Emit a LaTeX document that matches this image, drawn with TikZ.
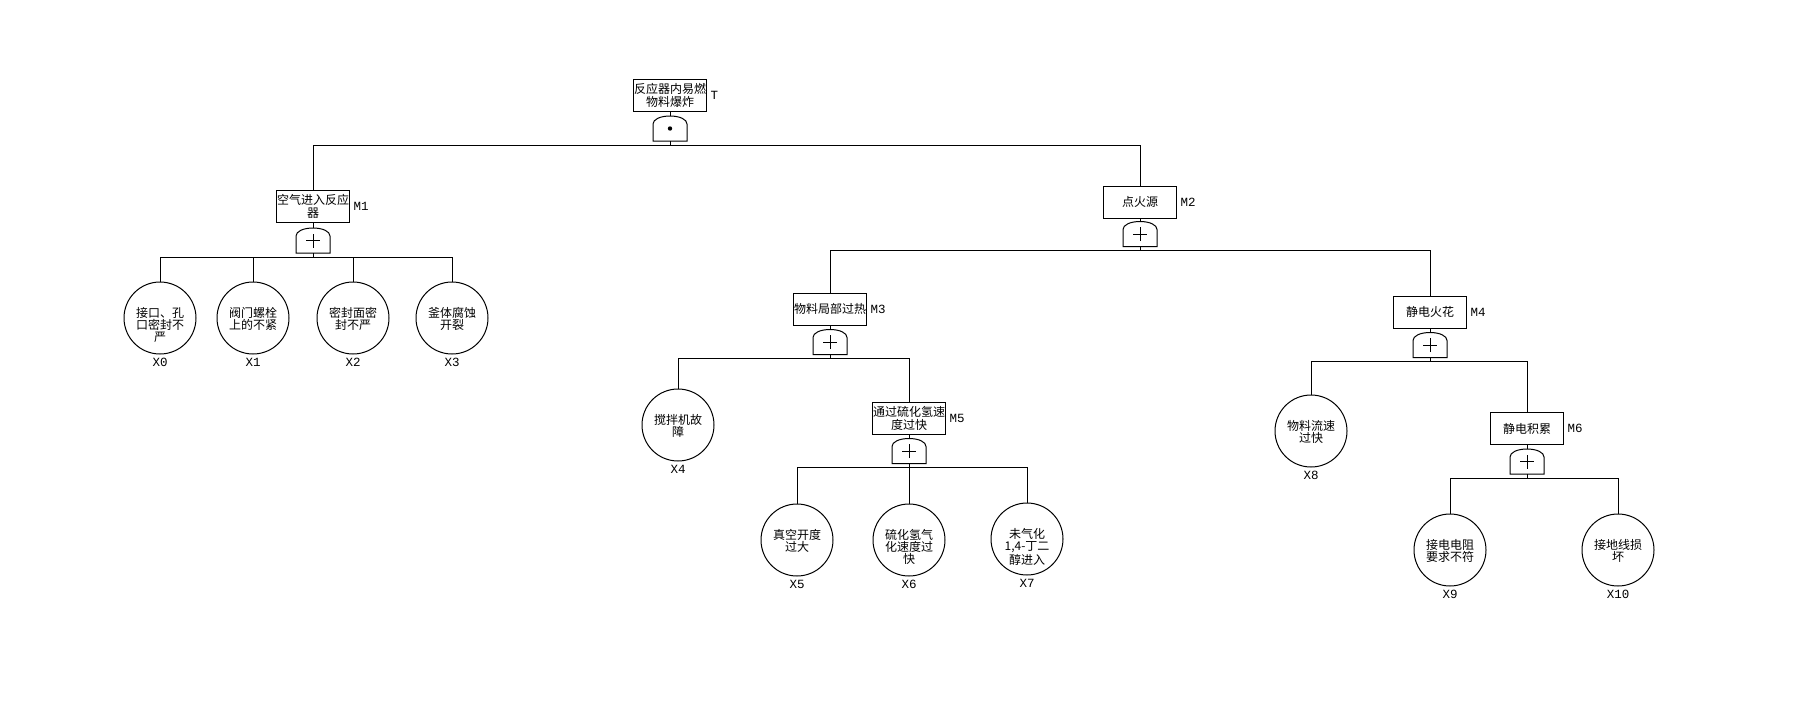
\documentclass[tikz,border=0pt]{standalone}
\usepackage{fontspec}
\newfontfamily\cjk{Noto Sans CJK SC}
\newfontfamily\tagfont{Liberation Mono}
\usetikzlibrary{positioning}

% dome shaped gate drawn round a blank node
\newcommand\gatebody[1]{%
  \draw (#1.south west) -- ([yshift=-8pt]#1.north west)
    .. controls ([yshift=-3.5pt]#1.north west) and ([xshift=7pt]#1.north west) .. (#1.north)
    .. controls ([xshift=-7pt]#1.north east) and ([yshift=-3.5pt]#1.north east) .. ([yshift=-8pt]#1.north east)
    -- (#1.south east) -- cycle;}
\newcommand\orgate[1]{\gatebody{#1}
  \draw ([xshift=-7pt]#1.center) -- ([xshift=7pt]#1.center)
        ([yshift=-7pt]#1.center) -- ([yshift=7pt]#1.center);}
\newcommand\andgate[1]{\gatebody{#1}
  \fill (#1.center) circle (2.2pt);}

\begin{document}
\begin{tikzpicture}[x=1pt, y=-1pt, line width=1pt,
    every node/.style = {inner sep=0pt},
    event/.style = {shape=rectangle, draw, align=center,
      minimum width=73pt, minimum height=32pt,
      font=\cjk\fontsize{12}{13}\selectfont},
    basic/.style = {shape=circle, draw, minimum size=72pt},
    desc/.style = {anchor=north, align=center,
      font=\cjk\fontsize{12}{12}\selectfont},
    gate/.style = {minimum width=33pt, minimum height=24pt},
    tag/.style = {font=\tagfont\fontsize{12.5}{12.5}\selectfont, inner sep=1pt},
    tagged/.style = {label={[tag, label distance=2pt]right:#1}}]

  \useasboundingbox (0,0) rectangle (1818,710);

  % top event
  \node[event, tagged=T] (top) at (670,95.5) {反应器内易燃\\物料爆炸};
  \node[gate, below=4pt of top] (gtop) {};
  \andgate{gtop}

  % intermediate events
  \node[event, tagged=M1] (m1) at (313,206.5) {空气进入反应\\器};
  \node[gate, below=5pt of m1] (g1) {};
  \orgate{g1}
  \node[event, tagged=M2] (m2) at (1140,202) {点火源};
  \node[gate, below=3pt of m2] (g2) {};
  \orgate{g2}
  \node[event, tagged=M3] (m3) at (830,309) {物料局部过热};
  \node[gate, below=4pt of m3] (g3) {};
  \orgate{g3}
  \node[event, tagged=M4] (m4) at (1430,312) {静电火花};
  \node[gate, below=4pt of m4] (g4) {};
  \orgate{g4}
  \node[event, tagged=M5] (m5) at (909,418) {通过硫化氢速\\度过快};
  \node[gate, below=4pt of m5] (g5) {};
  \orgate{g5}
  \node[event, tagged=M6] (m6) at (1527,428.5) {静电积累};
  \node[gate, below=4pt of m6] (g6) {};
  \orgate{g6}

  % basic events
  \node[basic] (x0) at (160,318) {};
  \node[basic] (x1) at (253,318) {};
  \node[basic] (x2) at (353,318) {};
  \node[basic] (x3) at (452,318) {};
  \node[basic] (x4) at (678,425) {};
  \node[basic] (x5) at (797,540) {};
  \node[basic] (x6) at (909,540) {};
  \node[basic] (x7) at (1027,539) {};
  \node[basic] (x8) at (1311,431) {};
  \node[basic] (x9) at (1450,550) {};
  \node[basic] (x10) at (1618,550) {};

  \node[desc] (x0t) at ([yshift=11pt]x0.center) {接口、孔\\口密封不\\严};
  \node[desc] (x1t) at ([yshift=11pt]x1.center) {阀门螺栓\\上的不紧};
  \node[desc] (x2t) at ([yshift=11pt]x2.center) {密封面密\\封不严};
  \node[desc] (x3t) at ([yshift=11pt]x3.center) {釜体腐蚀\\开裂};
  \node[desc] (x4t) at ([yshift=11pt]x4.center) {搅拌机故\\障};
  \node[desc] (x5t) at ([yshift=11pt]x5.center) {真空开度\\过大};
  \node[desc] (x6t) at ([yshift=11pt]x6.center) {硫化氢气\\化速度过\\快};
  \node[desc] (x7t) at ([yshift=11pt]x7.center) {未气化\\1,4-丁二\\醇进入};
  \node[desc] (x8t) at ([yshift=11pt]x8.center) {物料流速\\过快};
  \node[desc] (x9t) at ([yshift=11pt]x9.center) {接电电阻\\要求不符};
  \node[desc] (x10t) at ([yshift=11pt]x10.center) {接地线损\\坏};

  \node[tag, below=2.5pt of x0] (x0l) {X0};
  \node[tag, below=2.5pt of x1] (x1l) {X1};
  \node[tag, below=2.5pt of x2] (x2l) {X2};
  \node[tag, below=2.5pt of x3] (x3l) {X3};
  \node[tag, below=2.5pt of x4] (x4l) {X4};
  \node[tag, below=2.5pt of x5] (x5l) {X5};
  \node[tag, below=2.5pt of x6] (x6l) {X6};
  \node[tag, below=2.5pt of x7] (x7l) {X7};
  \node[tag, below=2.5pt of x8] (x8l) {X8};
  \node[tag, below=2.5pt of x9] (x9l) {X9};
  \node[tag, below=2.5pt of x10] (x10l) {X10};

  % connections
  \draw (top) -- (gtop);
  \draw (m1) -- (g1);
  \draw (m2) -- (g2);
  \draw (m3) -- (g3);
  \draw (m4) -- (g4);
  \draw (m5) -- (g5);
  \draw (m6) -- (g6);

  \draw (gtop.south) -- ++(0,4) -| (m1.north);
  \draw (gtop.south) -- ++(0,4) -| (m2.north);
  \foreach \c in {x0,x1,x2,x3}
    \draw (g1.south) -- ++(0,4) -| (\c.north);
  \draw (g2.south) -- ++(0,4) -| (m3.north);
  \draw (g2.south) -- ++(0,4) -| (m4.north);
  \draw (g3.south) -- ++(0,4) -| (x4.north);
  \draw (g3.south) -- ++(0,4) -| (m5.north);
  \foreach \c in {x5,x6,x7}
    \draw (g5.south) -- ++(0,4) -| (\c.north);
  \draw (g4.south) -- ++(0,4) -| (x8.north);
  \draw (g4.south) -- ++(0,4) -| (m6.north);
  \draw (g6.south) -- ++(0,4) -| (x9.north);
  \draw (g6.south) -- ++(0,4) -| (x10.north);
\end{tikzpicture}
\end{document}
